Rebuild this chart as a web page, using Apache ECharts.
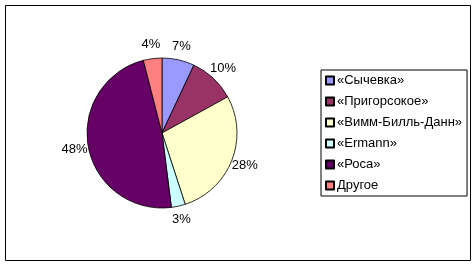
<!DOCTYPE html>
<html>
<head>
<meta charset="utf-8">
<script src="https://cdn.jsdelivr.net/npm/echarts@6/dist/echarts.min.js"></script>
<style>
html,body{margin:0;padding:0;background:#fff;}
#c{width:475px;height:266px;}
</style>
</head>
<body>
<div id="c"></div>
<script>
var categories = ['«Сычевка»', '«Пригорсокое»', '«Вимм-Билль-Данн»', '«Ermann»', '«Роса»', 'Другое'];
var values = [7, 10, 28, 3, 48, 4];
var colors = ['#9999FF', '#993366', '#FFFFCC', '#CCFFFF', '#660066', '#FF8080'];

var data = categories.map(function (n, i) { return { name: n, value: values[i] }; });

var chart = echarts.init(document.getElementById('c'), null, { renderer: 'canvas' });
chart.setOption({
  backgroundColor: '#fff',
  animation: false,
  color: colors,
  graphic: [{
    type: 'rect',
    shape: { x: 5.5, y: 5.5, width: 465, height: 255 },
    style: { fill: 'none', stroke: '#000', lineWidth: 1 },
    silent: true
  }],
  legend: {
    orient: 'vertical',
    left: 321,
    top: 70,
    padding: [4, 5, 4, 4],
    borderColor: '#000',
    borderWidth: 1,
    icon: 'rect',
    itemWidth: 8,
    itemHeight: 8,
    itemGap: 8,
    textStyle: { fontFamily: 'Liberation Sans, Arial', fontSize: 13, lineHeight: 13, color: '#000', padding: [0, 0, 0, -2] },
    data: categories
  },
  series: [{
    type: 'pie',
    center: [162, 133],
    radius: 75,
    startAngle: 90,
    clockwise: true,
    avoidLabelOverlap: false,
    data: data,
    itemStyle: { borderColor: '#000', borderWidth: 0.8 },
    emphasis: { disabled: true },
    label: {
      show: true,
      position: 'outside',
      formatter: '{c}%',
      color: '#000',
      fontFamily: 'Liberation Sans, Arial',
      fontSize: 13,
      distanceToLabelLine: 0
    },
    labelLine: { show: false, length: 14, length2: 0 },
    labelLayout: function () { return { align: 'center', verticalAlign: 'middle' }; }
  }]
});
</script>
</body>
</html>
